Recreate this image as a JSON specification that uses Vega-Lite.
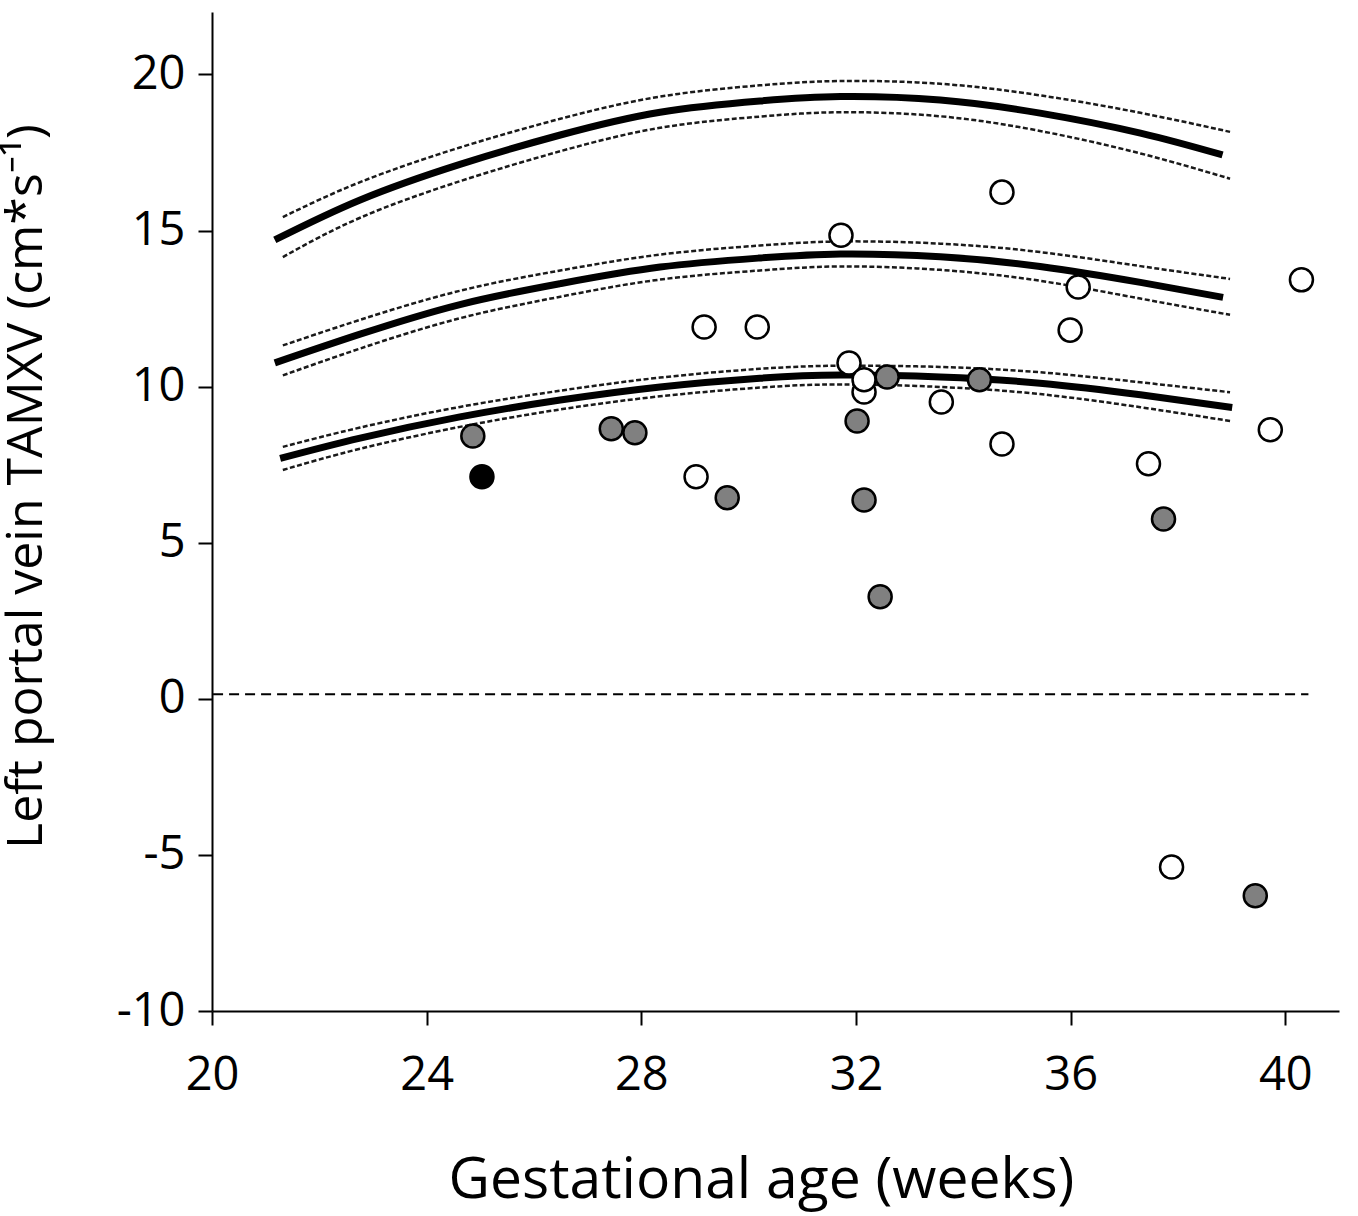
{
  "$schema": "https://vega.github.io/schema/vega-lite/v6.json",
  "autosize": "none",
  "width": 1127,
  "height": 999,
  "padding": {"left": 212, "top": 12, "right": 19, "bottom": 205},
  "background": "white",
  "config": {
    "view": {"stroke": null},
    "font": "Open Sans",
    "axis": {
      "grid": false,
      "domainColor": "black",
      "domainWidth": 2,
      "tickColor": "black",
      "tickWidth": 2,
      "tickSize": 14,
      "labelColor": "black",
      "labelFont": "Open Sans",
      "labelFontSize": 47,
      "labelFontWeight": "normal",
      "labelFlush": false,
      "labelOverlap": false,
      "titleColor": "black",
      "titleFont": "Open Sans",
      "titleFontWeight": "normal"
    }
  },
  "datasets": {
    "curves": [
      {"series": "upper-center", "band": "center", "x": 21.17, "y": 14.70},
      {"series": "upper-center", "band": "center", "x": 22.76, "y": 15.98},
      {"series": "upper-center", "band": "center", "x": 24.62, "y": 17.12},
      {"series": "upper-center", "band": "center", "x": 26.49, "y": 18.06},
      {"series": "upper-center", "band": "center", "x": 28.35, "y": 18.79},
      {"series": "upper-center", "band": "center", "x": 30.21, "y": 19.15},
      {"series": "upper-center", "band": "center", "x": 31.71, "y": 19.29},
      {"series": "upper-center", "band": "center", "x": 33.57, "y": 19.18},
      {"series": "upper-center", "band": "center", "x": 35.43, "y": 18.76},
      {"series": "upper-center", "band": "center", "x": 37.30, "y": 18.12},
      {"series": "upper-center", "band": "center", "x": 38.83, "y": 17.42},

      {"series": "upper-hi", "band": "hi", "x": 21.32, "y": 15.43},
      {"series": "upper-hi", "band": "hi", "x": 22.76, "y": 16.55},
      {"series": "upper-hi", "band": "hi", "x": 24.62, "y": 17.66},
      {"series": "upper-hi", "band": "hi", "x": 26.49, "y": 18.58},
      {"series": "upper-hi", "band": "hi", "x": 28.35, "y": 19.29},
      {"series": "upper-hi", "band": "hi", "x": 30.21, "y": 19.65},
      {"series": "upper-hi", "band": "hi", "x": 31.71, "y": 19.79},
      {"series": "upper-hi", "band": "hi", "x": 33.57, "y": 19.70},
      {"series": "upper-hi", "band": "hi", "x": 35.43, "y": 19.33},
      {"series": "upper-hi", "band": "hi", "x": 37.30, "y": 18.77},
      {"series": "upper-hi", "band": "hi", "x": 38.97, "y": 18.16},

      {"series": "upper-lo", "band": "lo", "x": 21.32, "y": 14.15},
      {"series": "upper-lo", "band": "lo", "x": 22.76, "y": 15.41},
      {"series": "upper-lo", "band": "lo", "x": 24.62, "y": 16.58},
      {"series": "upper-lo", "band": "lo", "x": 26.49, "y": 17.54},
      {"series": "upper-lo", "band": "lo", "x": 28.35, "y": 18.29},
      {"series": "upper-lo", "band": "lo", "x": 30.21, "y": 18.65},
      {"series": "upper-lo", "band": "lo", "x": 31.71, "y": 18.79},
      {"series": "upper-lo", "band": "lo", "x": 33.57, "y": 18.66},
      {"series": "upper-lo", "band": "lo", "x": 35.43, "y": 18.19},
      {"series": "upper-lo", "band": "lo", "x": 37.30, "y": 17.47},
      {"series": "upper-lo", "band": "lo", "x": 38.97, "y": 16.66},

      {"series": "mid-center", "band": "center", "x": 21.17, "y": 10.76},
      {"series": "mid-center", "band": "center", "x": 22.76, "y": 11.68},
      {"series": "mid-center", "band": "center", "x": 24.62, "y": 12.63},
      {"series": "mid-center", "band": "center", "x": 26.49, "y": 13.30},
      {"series": "mid-center", "band": "center", "x": 28.35, "y": 13.83},
      {"series": "mid-center", "band": "center", "x": 30.21, "y": 14.12},
      {"series": "mid-center", "band": "center", "x": 31.71, "y": 14.25},
      {"series": "mid-center", "band": "center", "x": 33.57, "y": 14.16},
      {"series": "mid-center", "band": "center", "x": 35.43, "y": 13.85},
      {"series": "mid-center", "band": "center", "x": 37.30, "y": 13.34},
      {"series": "mid-center", "band": "center", "x": 38.84, "y": 12.86},

      {"series": "mid-hi", "band": "hi", "x": 21.32, "y": 11.32},
      {"series": "mid-hi", "band": "hi", "x": 22.76, "y": 12.14},
      {"series": "mid-hi", "band": "hi", "x": 24.62, "y": 13.07},
      {"series": "mid-hi", "band": "hi", "x": 26.49, "y": 13.72},
      {"series": "mid-hi", "band": "hi", "x": 28.35, "y": 14.23},
      {"series": "mid-hi", "band": "hi", "x": 30.21, "y": 14.52},
      {"series": "mid-hi", "band": "hi", "x": 31.71, "y": 14.65},
      {"series": "mid-hi", "band": "hi", "x": 33.57, "y": 14.58},
      {"series": "mid-hi", "band": "hi", "x": 35.43, "y": 14.31},
      {"series": "mid-hi", "band": "hi", "x": 37.30, "y": 13.86},
      {"series": "mid-hi", "band": "hi", "x": 38.97, "y": 13.45},

      {"series": "mid-lo", "band": "lo", "x": 21.32, "y": 10.36},
      {"series": "mid-lo", "band": "lo", "x": 22.76, "y": 11.22},
      {"series": "mid-lo", "band": "lo", "x": 24.62, "y": 12.19},
      {"series": "mid-lo", "band": "lo", "x": 26.49, "y": 12.88},
      {"series": "mid-lo", "band": "lo", "x": 28.35, "y": 13.43},
      {"series": "mid-lo", "band": "lo", "x": 30.21, "y": 13.72},
      {"series": "mid-lo", "band": "lo", "x": 31.71, "y": 13.85},
      {"series": "mid-lo", "band": "lo", "x": 33.57, "y": 13.74},
      {"series": "mid-lo", "band": "lo", "x": 35.43, "y": 13.39},
      {"series": "mid-lo", "band": "lo", "x": 37.30, "y": 12.82},
      {"series": "mid-lo", "band": "lo", "x": 38.97, "y": 12.30},

      {"series": "low-center", "band": "center", "x": 21.27, "y": 7.70},
      {"series": "low-center", "band": "center", "x": 22.76, "y": 8.35},
      {"series": "low-center", "band": "center", "x": 24.62, "y": 9.03},
      {"series": "low-center", "band": "center", "x": 26.49, "y": 9.57},
      {"series": "low-center", "band": "center", "x": 28.35, "y": 9.99},
      {"series": "low-center", "band": "center", "x": 30.21, "y": 10.27},
      {"series": "low-center", "band": "center", "x": 31.71, "y": 10.37},
      {"series": "low-center", "band": "center", "x": 33.57, "y": 10.31},
      {"series": "low-center", "band": "center", "x": 35.43, "y": 10.11},
      {"series": "low-center", "band": "center", "x": 37.30, "y": 9.74},
      {"series": "low-center", "band": "center", "x": 39.01, "y": 9.33},

      {"series": "low-hi", "band": "hi", "x": 21.32, "y": 8.07},
      {"series": "low-hi", "band": "hi", "x": 22.76, "y": 8.69},
      {"series": "low-hi", "band": "hi", "x": 24.62, "y": 9.35},
      {"series": "low-hi", "band": "hi", "x": 26.49, "y": 9.87},
      {"series": "low-hi", "band": "hi", "x": 28.35, "y": 10.29},
      {"series": "low-hi", "band": "hi", "x": 30.21, "y": 10.57},
      {"series": "low-hi", "band": "hi", "x": 31.71, "y": 10.67},
      {"series": "low-hi", "band": "hi", "x": 33.57, "y": 10.63},
      {"series": "low-hi", "band": "hi", "x": 35.43, "y": 10.46},
      {"series": "low-hi", "band": "hi", "x": 37.30, "y": 10.14},
      {"series": "low-hi", "band": "hi", "x": 38.97, "y": 9.82},

      {"series": "low-lo", "band": "lo", "x": 21.32, "y": 7.33},
      {"series": "low-lo", "band": "lo", "x": 22.76, "y": 8.01},
      {"series": "low-lo", "band": "lo", "x": 24.62, "y": 8.71},
      {"series": "low-lo", "band": "lo", "x": 26.49, "y": 9.27},
      {"series": "low-lo", "band": "lo", "x": 28.35, "y": 9.69},
      {"series": "low-lo", "band": "lo", "x": 30.21, "y": 9.97},
      {"series": "low-lo", "band": "lo", "x": 31.71, "y": 10.07},
      {"series": "low-lo", "band": "lo", "x": 33.57, "y": 9.99},
      {"series": "low-lo", "band": "lo", "x": 35.43, "y": 9.76},
      {"series": "low-lo", "band": "lo", "x": 37.30, "y": 9.34},
      {"series": "low-lo", "band": "lo", "x": 38.97, "y": 8.90}
    ],
    "points": [
      {"group": "open", "x": 31.72, "y": 14.85},
      {"group": "open", "x": 34.72, "y": 16.23},
      {"group": "open", "x": 29.17, "y": 11.91},
      {"group": "open", "x": 30.16, "y": 11.91},
      {"group": "open", "x": 31.87, "y": 10.76},
      {"group": "open", "x": 32.15, "y": 9.83},
      {"group": "open", "x": 32.15, "y": 10.22},
      {"group": "open", "x": 33.59, "y": 9.51},
      {"group": "open", "x": 34.72, "y": 8.16},
      {"group": "open", "x": 36.14, "y": 13.19},
      {"group": "open", "x": 35.99, "y": 11.81},
      {"group": "open", "x": 40.30, "y": 13.42},
      {"group": "open", "x": 39.72, "y": 8.62},
      {"group": "open", "x": 37.45, "y": 7.53},
      {"group": "open", "x": 29.02, "y": 7.11},
      {"group": "open", "x": 37.88, "y": -5.39},
      {"group": "gray", "x": 24.86, "y": 8.42},
      {"group": "gray", "x": 27.44, "y": 8.65},
      {"group": "gray", "x": 27.88, "y": 8.52},
      {"group": "gray", "x": 29.60, "y": 6.44},
      {"group": "gray", "x": 32.02, "y": 8.90},
      {"group": "gray", "x": 32.15, "y": 6.37},
      {"group": "gray", "x": 32.45, "y": 3.27},
      {"group": "gray", "x": 32.58, "y": 10.31},
      {"group": "gray", "x": 34.30, "y": 10.22},
      {"group": "gray", "x": 37.73, "y": 5.76},
      {"group": "gray", "x": 39.44, "y": -6.31},
      {"group": "black", "x": 25.03, "y": 7.11}
    ],
    "zero": [
      {"x": 20.02, "x2": 40.43, "y": 0.15}
    ]
  },
  "encoding": {
    "x": {
      "field": "x",
      "type": "quantitative",
      "title": "Gestational age (weeks)",
      "scale": {"domain": [20, 41], "nice": false, "zero": false},
      "axis": {
        "values": [20, 24, 28, 32, 36, 40],
        "labelExpr": "'' + datum.value",
        "labelPadding": 27,
        "labelBaseline": "top",
        "titleFontSize": 57,
        "titleX": 549,
        "titleY": 186,
        "titleAlign": "center",
        "titleBaseline": "alphabetic",
        "titleAnchor": null
      }
    },
    "y": {
      "field": "y",
      "type": "quantitative",
      "title": "Left portal vein TAMXV (cm*s⁻¹)",
      "scale": {"domain": [-10, 22], "nice": false, "zero": false},
      "axis": {
        "values": [-10, -5, 0, 5, 10, 15, 20],
        "labelExpr": "'' + datum.value",
        "labelPadding": 13,
        "labelBaseline": "middle",
        "titleFontSize": 50,
        "titleAngle": -90,
        "titleX": -171,
        "titleY": 474,
        "titleAlign": "center",
        "titleBaseline": "alphabetic",
        "titleAnchor": null
      }
    }
  },
  "layer": [
    {
      "data": {"name": "zero"},
      "mark": {"type": "rule", "color": "black", "strokeWidth": 2, "strokeDash": [10, 6]},
      "encoding": {
        "x2": {"field": "x2"}
      }
    },
    {
      "data": {"name": "curves"},
      "transform": [{"filter": "datum.band != 'center'"}],
      "mark": {"type": "line", "color": "#1a1a1a", "strokeWidth": 2.5, "strokeDash": [5, 2.5], "interpolate": "natural"},
      "encoding": {
        "detail": {"field": "series", "type": "nominal"},
        "order": {"field": "x", "type": "quantitative"}
      }
    },
    {
      "data": {"name": "curves"},
      "transform": [{"filter": "datum.band == 'center'"}],
      "mark": {"type": "line", "color": "black", "strokeWidth": 7, "strokeCap": "butt", "interpolate": "natural"},
      "encoding": {
        "detail": {"field": "series", "type": "nominal"},
        "order": {"field": "x", "type": "quantitative"}
      }
    },
    {
      "data": {"name": "points"},
      "mark": {"type": "circle", "size": 530, "stroke": "black", "strokeWidth": 2.5, "opacity": 1},
      "encoding": {
        "fill": {
          "field": "group",
          "type": "nominal",
          "scale": {"domain": ["open", "gray", "black"], "range": ["white", "#808080", "black"]},
          "legend": null
        }
      }
    }
  ]
}
